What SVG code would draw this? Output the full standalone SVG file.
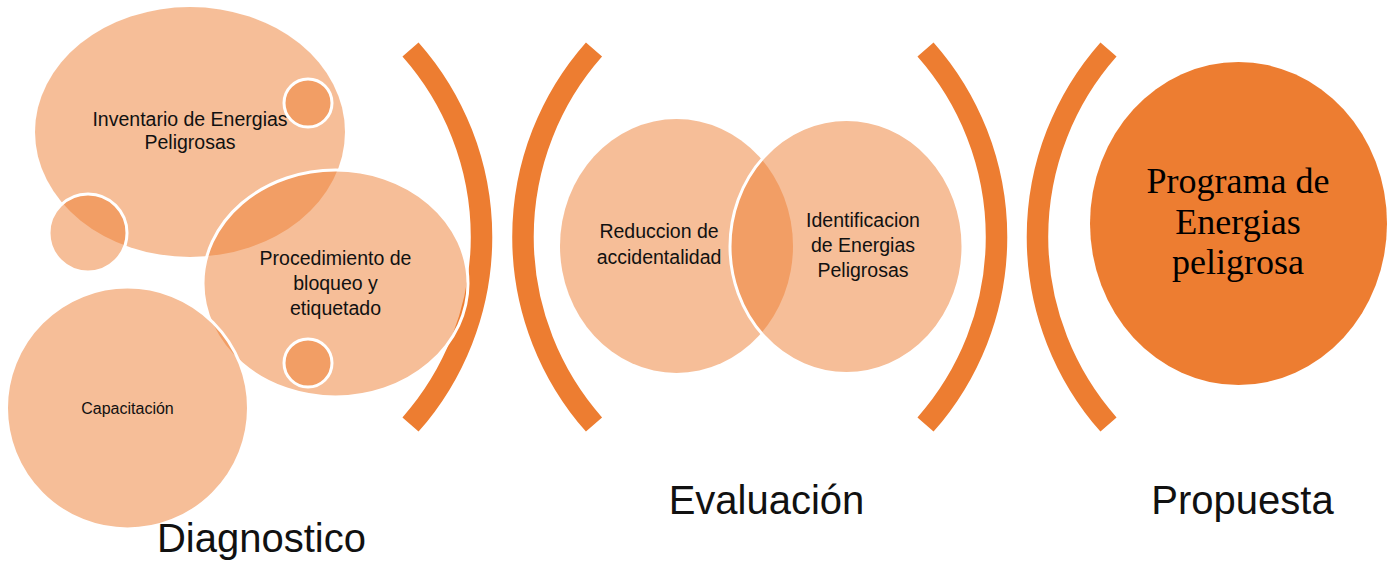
<svg xmlns="http://www.w3.org/2000/svg" width="1388" height="562" viewBox="0 0 1388 562">
  <style>
    .lt { fill: #ED7D31; fill-opacity: 0.5; }
    .st { stroke: #FFFFFF; stroke-width: 3; }
    .arc { fill: none; stroke: #ED7D31; stroke-width: 21.5; stroke-linecap: butt; }
    .t { font-family: "Liberation Sans", Arial, sans-serif; fill: #111111; text-anchor: middle; }
    .s { font-size: 19.5px; }
    .cap { font-size: 16px; }
    .big { font-size: 40px; }
    .serif { font-family: "Liberation Serif", "Times New Roman", serif; font-size: 36px; fill: #000000; text-anchor: middle; }
  </style>
  <rect width="1388" height="562" fill="#FFFFFF"/>

  <g id="connectors">
    <path class="arc" d="M 410.5 49.5 A 283 283 0 0 1 410.5 424.5"/>
    <path class="arc" d="M 594 49.5 A 283 283 0 0 0 594 424.5"/>
    <path class="arc" d="M 925.5 49.5 A 283 283 0 0 1 925.5 424.5"/>
    <path class="arc" d="M 1108.5 49.5 A 283 283 0 0 0 1108.5 424.5"/>
  </g>

  <g id="inventario">
    <ellipse class="lt" cx="190" cy="132" rx="155" ry="125"/>
    <text class="t s" x="190" y="126">Inventario de Energias</text>
    <text class="t s" x="190" y="149">Peligrosas</text>
  </g>
  <g id="dot-top">
    <circle class="lt st" cx="308" cy="103" r="24"/>
  </g>
  <g id="dot-left">
    <circle class="lt st" cx="88" cy="233" r="39"/>
  </g>
  <g id="procedimiento">
    <ellipse class="lt st" cx="335.5" cy="283.5" rx="132.5" ry="113.5"/>
    <text class="t s" x="335.5" y="265">Procedimiento de</text>
    <text class="t s" x="335.5" y="290">bloqueo y</text>
    <text class="t s" x="335.5" y="315">etiquetado</text>
  </g>
  <g id="dot-bottom">
    <circle class="lt st" cx="308" cy="363" r="24"/>
  </g>
  <g id="capacitacion">
    <circle class="lt st" cx="127.5" cy="408" r="121"/>
    <text class="t cap" x="127.5" y="414">Capacitación</text>
  </g>
  <g id="diagnostico">
    <text class="t big" x="261.5" y="552">Diagnostico</text>
  </g>

  <g id="reduccion">
    <ellipse class="lt" cx="676.5" cy="246" rx="116.5" ry="127"/>
    <text class="t s" x="659" y="238">Reduccion de</text>
    <text class="t s" x="659" y="264">accidentalidad</text>
  </g>
  <g id="identificacion">
    <ellipse class="lt st" cx="846.5" cy="246.5" rx="116.5" ry="127"/>
    <text class="t s" x="863" y="227">Identificacion</text>
    <text class="t s" x="863" y="252">de Energias</text>
    <text class="t s" x="863" y="277">Peligrosas</text>
  </g>
  <g id="evaluacion">
    <text class="t big" x="766.5" y="514">Evaluación</text>
  </g>

  <g id="programa">
    <ellipse cx="1238.5" cy="223.5" rx="148.5" ry="161.5" fill="#ED7D31"/>
    <text class="serif" x="1238" y="193">Programa de</text>
    <text class="serif" x="1238" y="233.5">Energias</text>
    <text class="serif" x="1238" y="274">peligrosa</text>
  </g>
  <g id="propuesta">
    <text class="t big" x="1242.5" y="514">Propuesta</text>
  </g>
</svg>
